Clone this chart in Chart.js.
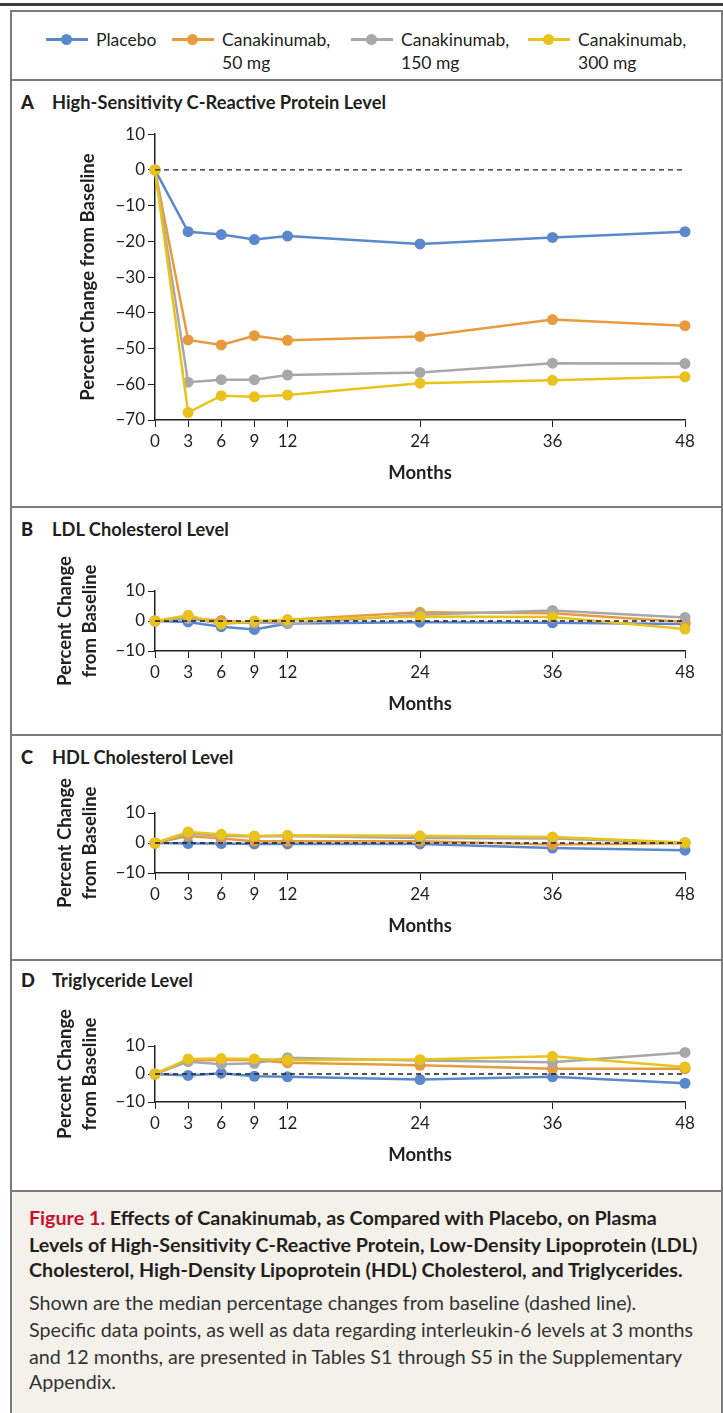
<!DOCTYPE html>
<html>
<head>
<meta charset="utf-8">
<script src="https://cdn.jsdelivr.net/npm/chart.js@4.4.0/dist/chart.umd.min.js"></script>
<style>
html, body { margin: 0; padding: 0; background: #fff; }
#page { position: relative; width: 723px; height: 1413px; overflow: hidden;
        font-family: Lato, "Open Sans", sans-serif; color: #231f20; }
.rule { position: absolute; left: 0; top: 3px; width: 723px; height: 3px; background: #3c3c3c; }
.box { position: absolute; left: 10px; top: 10px; width: 709px; height: 1410px;
       border: 2px solid #7b7b7b; border-bottom: none; }
.sep { position: absolute; left: 10px; width: 713px; height: 2px; background: #7b7b7b; }
.cap-bg { position: absolute; left: 12px; top: 1192px; width: 709px; height: 221px; background: #f4f1eb; }
.leg { position: absolute; font-size: 17.5px; line-height: 23px; white-space: nowrap; }
.mk { position: absolute; width: 42px; height: 3px; }
.mk i { position: absolute; left: 15px; top: -4px; width: 11px; height: 11px; border-radius: 50%; }
.ptitle { position: absolute; left: 21px; height: 24px; line-height: 24px; font-size: 18.3px; font-weight: bold; white-space: nowrap; }
.ptitle b { display: inline-block; width: 31px; }
.cl { position: absolute; left: 29px; white-space: nowrap; height: 26px; line-height: 26px; }
.cb { font-weight: bold; font-size: 19.7px; }
.cr { font-size: 19.7px; color: #333; }
.red { color: #c8102e; }
canvas { position: absolute; left: 12px; }
</style>
</head>
<body>
<div id="page">
  <div class="rule"></div>
  <div class="box"></div>
  <div class="sep" style="top:79px"></div>
  <div class="sep" style="top:506px"></div>
  <div class="sep" style="top:734px"></div>
  <div class="sep" style="top:959px"></div>
  <div class="sep" style="top:1190px"></div>
  <div class="cap-bg"></div>

  <div id="legend"></div>

  <div class="ptitle" style="top:90px"><b>A</b>High-Sensitivity C-Reactive Protein Level</div>
  <div class="ptitle" style="top:517px"><b>B</b>LDL Cholesterol Level</div>
  <div class="ptitle" style="top:745px"><b>C</b>HDL Cholesterol Level</div>
  <div class="ptitle" style="top:968px"><b>D</b>Triglyceride Level</div>

  <canvas id="chartA" width="700" height="374" style="top:121px"></canvas>
  <canvas id="chartB" width="700" height="178" style="top:548px"></canvas>
  <canvas id="chartC" width="700" height="178" style="top:770px"></canvas>
  <canvas id="chartD" width="700" height="174" style="top:1003px"></canvas>

  <div class="cl cb" style="top:1205px"><span class="red">Figure 1.</span> Effects of Canakinumab, as Compared with Placebo, on Plasma</div>
  <div class="cl cb" style="top:1232px">Levels of High-Sensitivity C-Reactive Protein, Low-Density Lipoprotein (LDL)</div>
  <div class="cl cb" style="top:1257px">Cholesterol, High-Density Lipoprotein (HDL) Cholesterol, and Triglycerides.</div>
  <div class="cl cr" style="top:1290px">Shown are the median percentage changes from baseline (dashed line).</div>
  <div class="cl cr" style="top:1317px">Specific data points, as well as data regarding interleukin-6 levels at 3 months</div>
  <div class="cl cr" style="top:1344px">and 12 months, are presented in Tables S1 through S5 in the Supplementary</div>
  <div class="cl cr" style="top:1369px">Appendix.</div>
</div>

<script>
// Time points (months) and x tick labels
const months = [0, 3, 6, 9, 12, 24, 36, 48];
const monthTicks = [0, 3, 6, 9, 12, 24, 36, 48];

// Series names and colours
const seriesNames = [['Placebo'], ['Canakinumab,', '50 mg'], ['Canakinumab,', '150 mg'], ['Canakinumab,', '300 mg']];
const seriesColors = ['#5b88cc', '#e89b3d', '#a8a8aa', '#e9c21c'];

// Panel A: hs-CRP, median % change
const crpPlacebo = [0, -17.3, -18.1, -19.5, -18.5, -20.7, -18.9, -17.3];
const crp50 = [0, -47.6, -49.0, -46.4, -47.7, -46.6, -41.9, -43.6];
const crp150 = [0, -59.4, -58.7, -58.7, -57.4, -56.7, -54.1, -54.2];
const crp300 = [0, -67.9, -63.2, -63.5, -63.0, -59.7, -58.9, -57.9];

// Panel B: LDL cholesterol
const ldlPlacebo = [0, -0.3, -1.9, -2.8, -0.8, -0.4, -0.6, -1.0];
const ldl50 = [0, 1.0, 0.2, -0.7, 0.4, 2.9, 2.6, -0.3];
const ldl150 = [0, 0.8, -0.8, -0.4, -0.9, 2.1, 3.5, 1.2];
const ldl300 = [0, 1.9, -1.0, 0.0, 0.4, 1.5, 1.3, -2.7];

// Panel C: HDL cholesterol
const hdlPlacebo = [0, -0.2, -0.2, -0.3, -0.3, -0.3, -1.7, -2.4];
const hdl50 = [0, 2.3, 1.5, 0.6, 0.6, 0.6, -0.5, -0.1];
const hdl150 = [0, 3.2, 2.4, 2.2, 2.3, 1.7, 1.5, 0.0];
const hdl300 = [0, 3.7, 2.9, 2.3, 2.6, 2.4, 2.0, 0.2];

// Panel D: triglycerides
const tgPlacebo = [0, -0.5, 0.3, -0.8, -1.0, -2.0, -1.0, -3.3];
const tg50 = [0, 4.8, 5.0, 5.0, 4.0, 3.1, 1.9, 1.9];
const tg150 = [0, 4.4, 3.5, 3.8, 5.8, 4.8, 4.2, 7.7];
const tg300 = [0, 5.4, 5.5, 5.4, 5.0, 5.2, 6.3, 2.5];

// Dashed baseline
const baselineX = [0, 48];
const baselineY = [0, 0];

const ink = '#231f20';
Chart.defaults.font.family = 'Lato, "Open Sans", sans-serif';
Chart.defaults.color = ink;

// Shared legend (HTML)
const legendX = [46, 172, 351, 528];
const legend = document.getElementById('legend');
seriesNames.forEach((name, i) => {
    const mk = document.createElement('div');
    mk.className = 'mk';
    mk.style.left = legendX[i] + 'px';
    mk.style.top = '38px';
    mk.style.background = seriesColors[i];
    mk.innerHTML = '<i style="background:' + seriesColors[i] + '"></i>';
    legend.appendChild(mk);
    const txt = document.createElement('div');
    txt.className = 'leg';
    txt.style.left = (legendX[i] + 50) + 'px';
    txt.style.top = '28px';
    txt.innerHTML = name.join('<br>');
    legend.appendChild(txt);
});

function minus(v) {
    return String(v).replace('-', '\u2212');
}

function makePanel(id, series, yMin, yMax, yTitle, yTitlePad, padTop) {
    const sets = series.map((vals, i) => ({
        data: months.map((m, k) => ({ x: m, y: vals[k] })),
        borderColor: seriesColors[i],
        backgroundColor: seriesColors[i],
        pointBackgroundColor: seriesColors[i],
        pointBorderWidth: 0,
        pointRadius: 5.5,
        borderWidth: 2.5,
        clip: false,
        order: 4 - i
    }));
    sets.push({
        data: baselineX.map((x, k) => ({ x: x, y: baselineY[k] })),
        borderColor: ink,
        borderWidth: 1.3,
        borderDash: [5, 4],
        pointRadius: 0,
        clip: false,
        order: 0
    });

    new Chart(document.getElementById(id), {
        type: 'line',
        data: { datasets: sets },
        options: {
            responsive: false,
            animation: false,
            layout: { padding: { top: padTop, right: 27, left: 0, bottom: 0 } },
            plugins: { legend: { display: false }, tooltip: { enabled: false } },
            scales: {
                x: {
                    type: 'linear',
                    min: 0,
                    max: 48,
                    afterBuildTicks: s => { s.ticks = monthTicks.map(v => ({ value: v })); },
                    afterFit: s => { s.height = 75; },
                    grid: { drawOnChartArea: false, drawTicks: true, tickLength: 7, color: ink, lineWidth: 1 },
                    border: { color: ink, width: 1.5 },
                    ticks: { font: { size: 17 }, color: ink, padding: 4, maxRotation: 0, autoSkip: false },
                    title: { display: true, text: 'Months', font: { size: 18.5, weight: 'bold' }, color: ink,
                             padding: { top: 0, bottom: 11 } }
                },
                y: {
                    min: yMin,
                    max: yMax,
                    ticks: { stepSize: 10, font: { size: 17 }, color: ink, padding: 3, callback: v => minus(v) },
                    afterFit: s => { s.width = 143; },
                    grid: { drawOnChartArea: false, drawTicks: true, tickLength: 7, color: ink, lineWidth: 1 },
                    border: { color: ink, width: 1.5 },
                    title: { display: true, text: yTitle, font: { size: 18.5, weight: 'bold', lineHeight: 1.35 },
                             color: ink, padding: { top: yTitlePad, bottom: 0 } }
                }
            }
        }
    });
}

makePanel('chartA', [crpPlacebo, crp50, crp150, crp300], -70, 10, 'Percent Change from Baseline', 63.5, 13);
makePanel('chartB', [ldlPlacebo, ldl50, ldl150, ldl300], -10, 10, ['Percent Change', 'from Baseline'], 40.5, 43);
makePanel('chartC', [hdlPlacebo, hdl50, hdl150, hdl300], -10, 10, ['Percent Change', 'from Baseline'], 40.5, 43);
makePanel('chartD', [tgPlacebo, tg50, tg150, tg300], -10, 10, ['Percent Change', 'from Baseline'], 40.5, 43);
</script>
</body>
</html>
